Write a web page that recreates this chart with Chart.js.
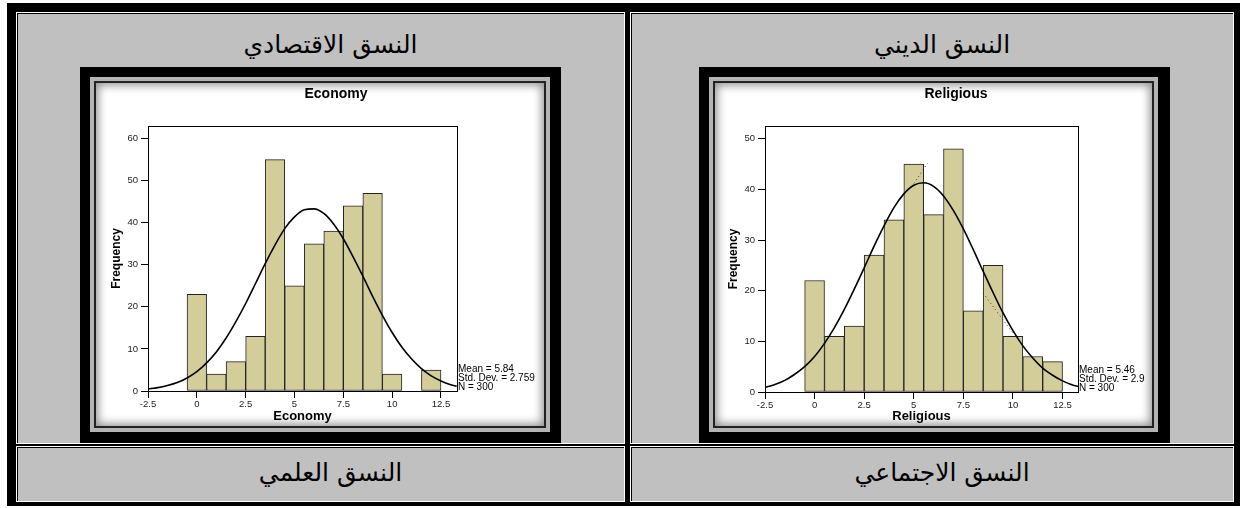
<!DOCTYPE html>
<html>
<head>
<meta charset="utf-8">
<script src="https://cdn.jsdelivr.net/npm/chart.js@4.4.1/dist/chart.umd.min.js"></script>
<style>
  html, body { margin: 0; padding: 0; background: #fff; }
  body { position: relative; width: 1242px; height: 508px; overflow: hidden; }
  .abs { position: absolute; box-sizing: border-box; }
  .outer { left: 7px; top: 3px; width: 1233px; height: 503px; background: #000; }
  .cell { background: #c0c0c0; border: 1px solid #fff; box-shadow: inset 1px 1px 0 #000; }
  .label { font-family: "DejaVu Sans", sans-serif; font-size: 25px; color: #000; text-align: center; direction: rtl; line-height: 30px; }
  .frame { background: #000; }
  .ring { background: #b4b4b4; }
  .inner { background: #fff; border: 2px solid #222; box-shadow: inset 0 0 10px 2px rgba(0,0,0,0.45); }
  canvas { position: absolute; }
</style>
</head>
<body>
<div class="abs outer"></div>
<div class="abs cell" style="left:16px;top:12px;width:609px;height:432px;"></div>
<div class="abs cell" style="left:630px;top:12px;width:604px;height:432px;"></div>
<div class="abs cell" style="left:16px;top:446px;width:609px;height:56px;"></div>
<div class="abs cell" style="left:630px;top:446px;width:604px;height:56px;"></div>

<div class="abs label" style="left:36px;top:30px;width:589px;">النسق الاقتصادي</div>
<div class="abs label" style="left:650px;top:30px;width:584px;">النسق الديني</div>
<div class="abs label" style="left:36px;top:458px;width:589px;">النسق العلمي</div>
<div class="abs label" style="left:650px;top:458px;width:584px;">النسق الاجتماعي</div>

<div class="abs frame" style="left:80px;top:67px;width:481px;height:376px;"></div>
<div class="abs ring" style="left:90px;top:77px;width:460px;height:355px;"></div>
<div class="abs inner" style="left:94px;top:81px;width:452px;height:347px;"></div>

<div class="abs frame" style="left:699px;top:67px;width:471px;height:376px;"></div>
<div class="abs ring" style="left:709px;top:77px;width:449px;height:355px;"></div>
<div class="abs inner" style="left:713px;top:81px;width:441px;height:347px;"></div>

<canvas id="chartEconomy" width="480" height="342" style="left:96px;top:83px;"></canvas>
<canvas id="chartReligious" width="480" height="342" style="left:716px;top:83px;"></canvas>

<script>
// bins (centre of each bar) and counts
const binCenters = [0, 1, 2, 3, 4, 5, 6, 7, 8, 9, 10, 11, 12];
const economyCounts = [23, 4, 7, 13, 55, 25, 35, 38, 44, 47, 4, 0, 5];
const religiousCounts = [22, 11, 13, 27, 34, 45, 35, 48, 16, 25, 11, 7, 6];

// normal curve as traced on each chart
const curveX = [-2.5, -2, -1.5, -1, -0.5, 0, 0.5, 1, 1.5, 2, 2.5, 3, 3.5, 4, 4.5, 5, 5.5,
  6, 6.5, 7, 7.5, 8, 8.5, 9, 9.5, 10, 10.5, 11, 11.5, 12, 12.5, 13, 13.3];
const economyCurve = [0.5, 0.8, 1.3, 2.0, 3.1, 4.6, 6.7, 9.3, 12.6, 16.5, 20.8, 25.5, 30.3,
  34.7, 38.6, 41.4, 43.1, 43.3, 42.2, 39.7, 36.2, 31.9, 27.3, 22.5, 18.0, 13.9, 10.4, 7.6,
  5.3, 3.6, 2.4, 1.5, 1.1];
const religiousCurve = [0.9, 1.5, 2.3, 3.5, 5.0, 7.0, 9.6, 12.7, 16.3, 20.3, 24.5, 28.8, 32.8,
  36.4, 39.1, 40.8, 41.3, 40.6, 38.7, 35.8, 32.2, 28.1, 23.8, 19.6, 15.6, 12.1, 9.1, 6.7,
  4.7, 3.3, 2.2, 1.4, 1.1];

// stray dotted strokes on the Religious chart
const religiousDotX = [4.9, 5.7, 7, 8.5, 10.0];
const religiousDotY = [40.5, 45.2, null, 19.5, 11.6];

const xTickValues = [-2.5, 0, 2.5, 5, 7.5, 10, 12.5];
const xTickLabels = ["-2.5", "0", "2.5", "5", "7.5", "10", "12.5"];
const economyYTicks = [0, 10, 20, 30, 40, 50, 60];
const religiousYTicks = [0, 10, 20, 30, 40, 50];

const economyStats = ["Mean = 5.84", "Std. Dev. = 2.759", "N = 300"];
const religiousStats = ["Mean = 5.46", "Std. Dev. = 2.9", "N = 300"];

const fontLatin = "'Liberation Sans', Arial, sans-serif";
const barColor = "#d3ce99";

const plotFrame = {
  id: "plotFrame",
  afterDatasetsDraw(chart) {
    const a = chart.chartArea;
    const ctx = chart.ctx;
    ctx.save();
    ctx.strokeStyle = "#000";
    ctx.lineWidth = 1;
    ctx.strokeRect(a.left + 0.5, a.top + 0.5, a.right - a.left, a.bottom - a.top);
    ctx.restore();
  }
};

// chart heading, centred on the whole canvas like the SPSS output
const heading = {
  id: "heading",
  afterDraw(chart, args, opts) {
    const ctx = chart.ctx;
    ctx.save();
    ctx.font = "bold 14px " + fontLatin;
    ctx.fillStyle = "#000";
    ctx.textAlign = "center";
    ctx.textBaseline = "middle";
    ctx.fillText(opts.text, chart.width / 2, 11);
    ctx.restore();
  }
};

const statsBox = {
  id: "statsBox",
  afterDraw(chart, args, opts) {
    const a = chart.chartArea;
    const ctx = chart.ctx;
    ctx.save();
    ctx.font = "10px " + fontLatin;
    ctx.fillStyle = "#000";
    ctx.textBaseline = "middle";
    const n = opts.lines.length;
    opts.lines.forEach((t, i) => {
      ctx.fillText(t, a.right + 1, a.bottom - 3.5 - (n - 1 - i) * 9.3);
    });
    ctx.restore();
  }
};

function crearHistograma(id, cfg) {
  const barras = binCenters.map((x, i) => ({ x: x, y: cfg.counts[i] }));
  const curva = curveX.map((x, i) => ({ x: x, y: cfg.curve[i] }));

  const datasets = [
    {
      type: "line",
      data: curva,
      borderColor: "#000",
      borderWidth: 1.6,
      pointRadius: 0,
      cubicInterpolationMode: "monotone",
      fill: false,
      order: 0
    },
    {
      type: "bar",
      data: barras,
      backgroundColor: barColor,
      borderColor: "#222",
      borderWidth: 1,
      borderSkipped: false,
      barPercentage: 1,
      categoryPercentage: 1,
      order: 2
    }
  ];

  if (cfg.dots) {
    datasets.push({
      type: "line",
      data: cfg.dots,
      borderColor: "#333",
      borderWidth: 1,
      borderDash: [1, 3],
      pointRadius: 0,
      spanGaps: false,
      fill: false,
      order: 1
    });
  }

  return new Chart(document.getElementById(id), {
    type: "bar",
    data: { datasets: datasets },
    options: {
      responsive: false,
      animation: false,
      layout: { padding: { left: 0, right: cfg.rightPad, top: 43, bottom: 0 } },
      plugins: {
        legend: { display: false },
        tooltip: { enabled: false },
        title: { display: false },
        heading: { text: cfg.title },
        statsBox: { lines: cfg.stats }
      },
      scales: {
        x: {
          type: "linear",
          offset: false,
          min: -2.5,
          max: cfg.xMax,
          afterBuildTicks: (s) => { s.ticks = xTickValues.map((v) => ({ value: v })); },
          afterFit: (s) => { s.height = cfg.xHeight; },
          grid: { offset: false, drawOnChartArea: false, drawTicks: true, tickLength: 7, color: "#000" },
          border: { display: true, color: "#000" },
          ticks: {
            padding: 1,
            maxRotation: 0,
            autoSkip: false,
            color: "#222",
            font: { family: fontLatin, size: 9.5 },
            callback: (v, i) => xTickLabels[i]
          },
          title: {
            display: true,
            text: cfg.title,
            color: "#000",
            font: { family: fontLatin, size: 13, weight: "bold" },
            padding: { top: 0, bottom: 1 }
          }
        },
        y: {
          type: "linear",
          min: 0,
          max: cfg.yMax,
          afterBuildTicks: (s) => { s.ticks = cfg.yTicks.map((v) => ({ value: v })); },
          afterFit: (s) => { s.width = cfg.yWidth; },
          grid: { drawOnChartArea: false, drawTicks: true, tickLength: 7, color: "#000" },
          border: { display: true, color: "#000" },
          ticks: {
            padding: 3,
            color: "#222",
            font: { family: fontLatin, size: 9.5 }
          },
          title: {
            display: true,
            text: "Frequency",
            color: "#000",
            font: { family: fontLatin, size: 12, weight: "bold" },
            padding: { top: cfg.yTitlePad, bottom: 0 }
          }
        }
      }
    },
    plugins: [plotFrame, heading, statsBox]
  });
}

crearHistograma("chartEconomy", {
  title: "Economy",
  counts: economyCounts,
  curve: economyCurve,
  stats: economyStats,
  yTicks: economyYTicks,
  yMax: 63,
  xMax: 13.32,
  yWidth: 52,
  yTitlePad: 13.5,
  rightPad: 119,
  xHeight: 34
});

crearHistograma("chartReligious", {
  title: "Religious",
  counts: religiousCounts,
  curve: religiousCurve,
  stats: religiousStats,
  yTicks: religiousYTicks,
  yMax: 52.5,
  xMax: 13.28,
  yWidth: 49,
  yTitlePad: 10,
  rightPad: 118,
  xHeight: 33,
  dots: religiousDotX.map((x, i) => ({ x: x, y: religiousDotY[i] }))
});
</script>
</body>
</html>
